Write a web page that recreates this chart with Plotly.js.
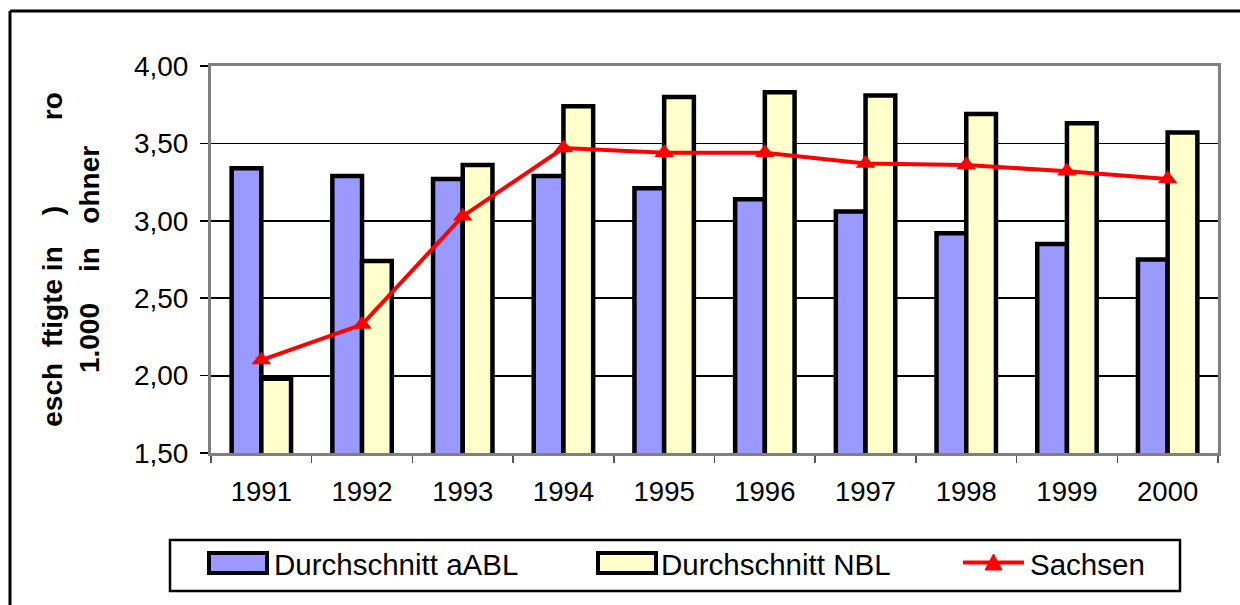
<!DOCTYPE html>
<html>
<head>
<meta charset="utf-8">
<script src="https://cdn.plot.ly/plotly-3.0.1.min.js"></script>
<style>
  html, body { margin: 0; padding: 0; background: #fff; }
  #chart { width: 1240px; height: 605px; }
</style>
</head>
<body>
<div id="chart"></div>
<script>
// ---- data ----
const years = ['1991', '1992', '1993', '1994', '1995', '1996', '1997', '1998', '1999', '2000'];
const aABL = [3.34, 3.29, 3.27, 3.29, 3.21, 3.14, 3.06, 2.92, 2.85, 2.75];
const NBL = [1.98, 2.74, 3.36, 3.74, 3.80, 3.83, 3.81, 3.69, 3.63, 3.57];
const sachsen = [2.10, 2.33, 3.03, 3.47, 3.44, 3.44, 3.37, 3.36, 3.32, 3.27];
const seriesNames = ['Durchschnitt aABL', 'Durchschnitt NBL', 'Sachsen'];
const NB = '\u00A0';
const yTitleLines = [
  NB + NB + 'esch' + NB + NB + 'ftigte in' + NB.repeat(4) + ')' + NB.repeat(11) + 'ro',
  '1.000' + NB.repeat(4) + 'in' + NB.repeat(3) + 'ohner'
];

// ---- layout geometry ----
const W = 1240, H = 605;
const M = { l: 211, r: 22, t: 66, b: 152 };
const PW = W - M.l - M.r, PH = H - M.t - M.b;
const px = x => (x - M.l) / PW;
const py = y => (H - M.b - y) / PH;
const FONT = 'Liberation Sans, Arial, sans-serif';

const traces = [
  {
    type: 'bar', name: seriesNames[0], x: years, y: aABL,
    marker: { color: '#9999FF', line: { color: '#000000', width: 4.5 } }
  },
  {
    type: 'bar', name: seriesNames[1], x: years, y: NBL,
    marker: { color: '#FFFFCC', line: { color: '#000000', width: 4.5 } }
  },
  {
    type: 'scatter', mode: 'lines+markers', name: seriesNames[2], x: years, y: sachsen,
    line: { color: '#FF0000', width: 4 },
    marker: { symbol: 'triangle-up', size: 17, color: '#FF0000' },
    cliponaxis: false
  }
];

const shapes = [
  // outer chart frame (left + top visible)
  { type: 'line', xref: 'paper', yref: 'paper', x0: px(10), x1: px(10), y0: py(11), y1: py(620),
    line: { color: '#000', width: 3 } },
  { type: 'line', xref: 'paper', yref: 'paper', x0: px(10), x1: px(1260), y0: py(11), y1: py(11),
    line: { color: '#000', width: 3 } },
  // legend box
  { type: 'rect', xref: 'paper', yref: 'paper', x0: px(170), x1: px(1180), y0: py(540), y1: py(591),
    line: { color: '#000', width: 2.5 }, fillcolor: 'rgba(0,0,0,0)' },
  // legend swatches
  { type: 'rect', xref: 'paper', yref: 'paper', x0: px(209), x1: px(267), y0: py(553), y1: py(573),
    line: { color: '#000', width: 4 }, fillcolor: '#9999FF' },
  { type: 'rect', xref: 'paper', yref: 'paper', x0: px(598), x1: px(656), y0: py(553), y1: py(573),
    line: { color: '#000', width: 4 }, fillcolor: '#FFFFCC' },
  { type: 'line', xref: 'paper', yref: 'paper', x0: px(963), x1: px(1024), y0: py(562.5), y1: py(562.5),
    line: { color: '#FF0000', width: 4 } },
  { type: 'path', xref: 'paper', yref: 'paper',
    path: 'M ' + px(993.5) + ' ' + py(554) + ' L ' + px(1002) + ' ' + py(570) + ' L ' + px(985) + ' ' + py(570) + ' Z',
    line: { color: '#FF0000', width: 1 }, fillcolor: '#FF0000' }
];

const annotations = [
  { text: seriesNames[0], x0: 272 },
  { text: seriesNames[1], x0: 659 },
  { text: seriesNames[2], x0: 1028 }
].map(a => ({
  xref: 'paper', yref: 'paper', x: px(a.x0), y: py(564), xanchor: 'left', yanchor: 'middle',
  text: a.text, showarrow: false, font: { family: FONT, size: 29.5, color: '#000' }
}));

const layout = {
  width: W, height: H,
  margin: M,
  paper_bgcolor: '#ffffff', plot_bgcolor: '#ffffff',
  separators: ',.',
  showlegend: false,
  barmode: 'group', bargap: 0.41, bargroupgap: 0,
  font: { family: FONT, color: '#000' },
  xaxis: {
    type: 'category', range: [-0.5, years.length - 0.5], autorange: false,
    showline: true, linecolor: '#808080', linewidth: 3, mirror: true,
    ticks: 'outside', tickson: 'boundaries', ticklen: 7, tickcolor: '#555', tickwidth: 1.5,
    tickfont: { family: FONT, size: 27.5, color: '#000' },
    ticklabelstandoff: 12,
    showgrid: false, zeroline: false, fixedrange: true
  },
  yaxis: {
    range: [1.5, 4.0], autorange: false, dtick: 0.5, tick0: 1.5, tickformat: '.2f',
    showline: true, linecolor: '#808080', linewidth: 3, mirror: true,
    ticks: 'outside', ticklen: 8, tickcolor: '#000', tickwidth: 1.5,
    tickfont: { family: FONT, size: 28, color: '#000' },
    ticklabelstandoff: 6,
    showgrid: true, gridcolor: '#000', gridwidth: 1.8,
    zeroline: false, fixedrange: true,
    automargin: false,
    title: {
      text: yTitleLines.join('<br>'),
      font: { family: FONT, size: 28, color: '#000', weight: 'bold' },
      standoff: 27
    }
  },
  shapes: shapes,
  annotations: annotations
};

Plotly.newPlot('chart', traces, layout, { displayModeBar: false, staticPlot: true });
</script>
</body>
</html>
